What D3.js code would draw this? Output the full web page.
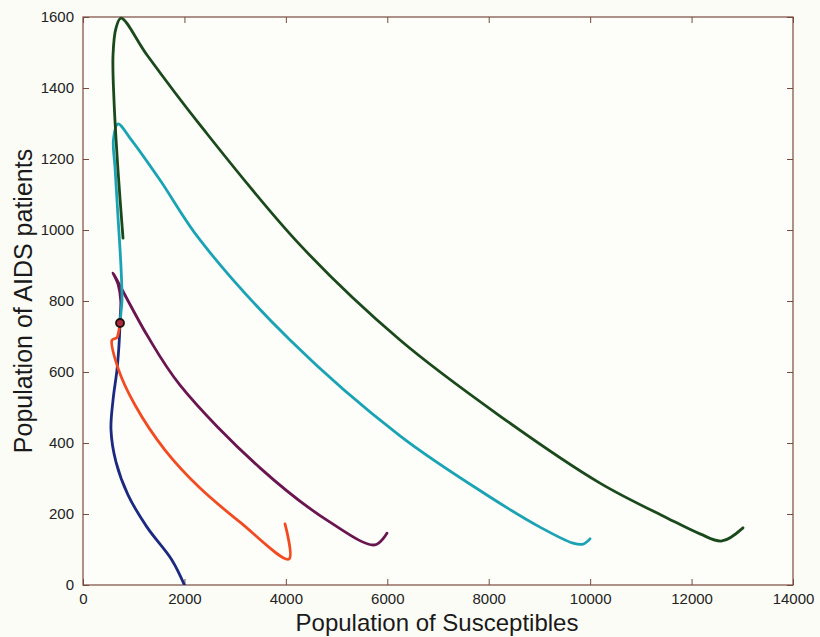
<!DOCTYPE html>
<html>
<head>
<meta charset="utf-8">
<script src="https://cdn.jsdelivr.net/npm/d3@7"></script>
<style>
  html, body { margin: 0; padding: 0; background: #fcfcf6; }
  svg { display: block; }
</style>
</head>
<body>
<svg id="chart" width="820" height="637"></svg>
<script>
// Axis ticks
const xTicks = [0, 2000, 4000, 6000, 8000, 10000, 12000, 14000];
const yTicks = [0, 200, 400, 600, 800, 1000, 1200, 1400, 1600];

// Trajectories: S (susceptibles) and A (AIDS patients)
const blueS  = [2000, 1755, 1262, 887, 651, 552, 592, 670, 710, 730];
const blueA  = [0, 70, 163, 254, 346, 437, 521, 606, 676, 738];

const redS   = [3983, 4062, 3096, 2307, 1617, 1025, 690, 572, 670, 700, 730];
const redA   = [172, 73, 177, 273, 380, 507, 611, 690, 697, 711, 738];

const purpleS = [5994, 5758, 4870, 3490, 1913, 1262, 592, 690, 745, 735, 730];
const purpleA = [146, 113, 177, 330, 563, 704, 879, 848, 800, 760, 738];

const cyanS  = [9997, 9859, 9662, 9011, 8025, 6251, 4082, 2307, 1518, 927, 690, 600, 631, 690, 749, 769, 750, 730];
const cyanA  = [130, 115, 118, 163, 248, 420, 690, 972, 1141, 1259, 1299, 1254, 1177, 1037, 896, 803, 770, 738];

const greenS = [13014, 12600, 12166, 11515, 10194, 8222, 6251, 4279, 2307, 1262, 749, 651, 592, 611, 690, 789];
const greenA = [161, 124, 144, 189, 287, 476, 690, 958, 1296, 1493, 1597, 1569, 1493, 1366, 1169, 977];

const seriesColors = ["#1b2a80", "#f24b22", "#6a1550", "#1aa3b5", "#1a4a1c"];
const equilibrium = [730, 738];

const svg = d3.select("#chart");
const W = 820, H = 637;
const m = { left: 83, right: 27, top: 17, bottom: 52 };
const pw = W - m.left - m.right, ph = H - m.top - m.bottom;

const x = d3.scaleLinear().domain([0, 14000]).range([m.left, m.left + pw]);
const y = d3.scaleLinear().domain([0, 1600]).range([m.top + ph, m.top]);

svg.append("rect").attr("width", W).attr("height", H).attr("fill", "#fcfcf6");
svg.append("rect").attr("x", m.left).attr("y", m.top).attr("width", pw).attr("height", ph)
  .attr("fill", "#fdfdf9");

const axisColor = "#7a4a3e";
const font = "'Liberation Sans', Arial, Helvetica, sans-serif";

function styleAxis(g) {
  g.select(".domain").remove();
  g.selectAll(".tick line").attr("stroke", axisColor).attr("stroke-width", 1);
  g.selectAll(".tick text").attr("fill", "#222").style("font-family", font).style("font-size", "15px");
}

// bottom axis (inward ticks)
svg.append("g").attr("transform", `translate(0,${m.top + ph})`)
  .call(d3.axisBottom(x).tickValues(xTicks).tickFormat(d3.format("d")).tickSizeInner(-6).tickSizeOuter(0).tickPadding(8))
  .call(styleAxis);
// top axis ticks
svg.append("g").attr("transform", `translate(0,${m.top})`)
  .call(d3.axisTop(x).tickValues(xTicks).tickFormat("").tickSizeInner(-6).tickSizeOuter(0))
  .call(styleAxis);
// left axis
svg.append("g").attr("transform", `translate(${m.left},0)`)
  .call(d3.axisLeft(y).tickValues(yTicks).tickFormat(d3.format("d")).tickSizeInner(-6).tickSizeOuter(0).tickPadding(9))
  .call(styleAxis);
// right axis ticks
svg.append("g").attr("transform", `translate(${m.left + pw},0)`)
  .call(d3.axisRight(y).tickValues(yTicks).tickFormat("").tickSizeInner(-6).tickSizeOuter(0))
  .call(styleAxis);

// frame
svg.append("rect").attr("x", m.left).attr("y", m.top).attr("width", pw).attr("height", ph)
  .attr("fill", "none").attr("stroke", axisColor).attr("stroke-width", 1.2);

// curves
const line = d3.line().x(d => x(d[0])).y(d => y(d[1])).curve(d3.curveCatmullRom.alpha(0.5));
const series = [
  [blueS, blueA], [redS, redA], [purpleS, purpleA], [cyanS, cyanA], [greenS, greenA]
];
svg.append("clipPath").attr("id", "clip").append("rect")
  .attr("x", m.left).attr("y", m.top - 2).attr("width", pw).attr("height", ph + 2);
const plot = svg.append("g").attr("clip-path", "url(#clip)");
series.forEach((s, i) => {
  const pts = s[0].map((v, j) => [v, s[1][j]]);
  plot.append("path").datum(pts).attr("d", line)
    .attr("fill", "none").attr("stroke", seriesColors[i]).attr("stroke-width", 2.8)
    .attr("stroke-linejoin", "round").attr("stroke-linecap", "round");
});

// equilibrium marker
svg.append("circle").attr("cx", x(equilibrium[0])).attr("cy", y(equilibrium[1])).attr("r", 4)
  .attr("fill", "#b0283a").attr("stroke", "#1a1010").attr("stroke-width", 1.8);

// axis titles
svg.append("text").attr("x", 437).attr("y", 631).attr("text-anchor", "middle")
  .attr("fill", "#1a1a1a").style("font-family", font).style("font-size", "24px")
  .text("Population of Susceptibles");
svg.append("text").attr("transform", `translate(32,301) rotate(-90)`).attr("text-anchor", "middle")
  .attr("fill", "#1a1a1a").style("font-family", font).style("font-size", "25px")
  .text("Population of AIDS patients");
</script>
</body>
</html>
